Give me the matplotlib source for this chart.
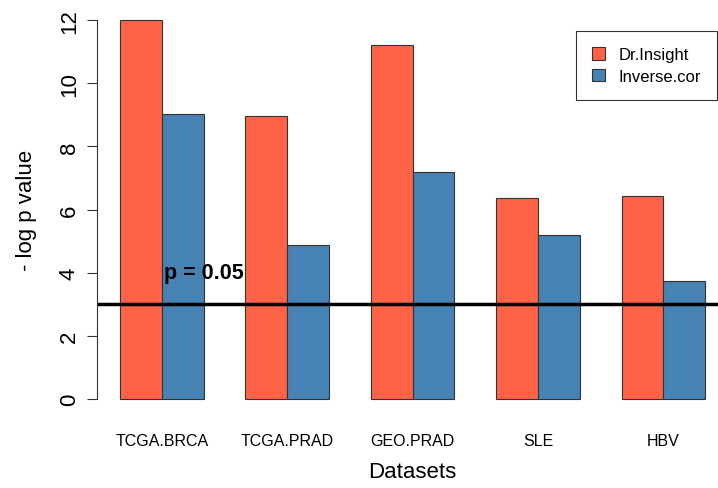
import numpy as np
import matplotlib
matplotlib.use('Agg')
import matplotlib.pyplot as plt

plt.rcParams['font.family'] = ['Liberation Sans', 'DejaVu Sans']

# data
datasets = ['TCGA.BRCA', 'TCGA.PRAD', 'GEO.PRAD', 'SLE', 'HBV']
dr_insight = [12.0, 8.95, 11.21, 6.36, 6.43]
inverse_cor = [9.03, 4.88, 7.19, 5.19, 3.74]
series = ['Dr.Insight', 'Inverse.cor']
colors = ['#FF6347', '#4682B4']
cutoff = 3
cutoff_label = 'p = 0.05'

W, H = 718, 489
fig = plt.figure(figsize=(W / 100, H / 100), dpi=100)
# plot region in pixels: x 96.6 -> 728, y 6 -> 415
left, right, top, bottom = 96.6, 728.5, 6, 415
ax = fig.add_axes([left / W, 1 - bottom / H, (right - left) / W, (bottom - top) / H])

# R style barplot(beside=TRUE): bar width 1, space c(0,1)
n = len(datasets)
starts = 1 + 3 * np.arange(n)
ax.bar(starts, dr_insight, width=1, align='edge', color=colors[0],
       edgecolor='#333333', linewidth=0.8, label=series[0])
ax.bar(starts + 1, inverse_cor, width=1, align='edge', color=colors[1],
       edgecolor='#333333', linewidth=0.8, label=series[1])

ax.set_xlim(0.44, 15.56)
ax.set_ylim(-0.48, 12.48)

for s in ['top', 'right', 'bottom']:
    ax.spines[s].set_visible(False)
ax.spines['left'].set_bounds(0, 12)
ax.spines['left'].set_color('#333333')

ax.set_yticks(range(0, 13, 2))
ax.tick_params(axis='y', length=7, width=0.8, color='#333333', labelsize=16, pad=5)
for t in ax.get_yticklabels():
    t.set_rotation(90)
    t.set_va('center')

ax.set_xticks(starts + 1)
ax.set_xticklabels(datasets, fontsize=11.5)
ax.tick_params(axis='x', length=0, pad=14)

ax.set_xlabel('Datasets', fontsize=16, labelpad=9)
ax.set_ylabel('- log p value', fontsize=16, labelpad=16)

ax.axhline(cutoff, color='black', linewidth=2.5)
ax.text(3, 4, cutoff_label, ha='center', va='center', fontsize=15.5, fontweight='bold')

leg = ax.legend(loc='upper right', bbox_to_anchor=((717 - left) / (right - left), 1 - (32 - top) / (bottom - top)),
                fontsize=12, frameon=True, fancybox=False, handlelength=0.8,
                handleheight=0.8, borderpad=0.95, labelspacing=0.4, handletextpad=0.8,
                borderaxespad=0)
leg.get_frame().set_edgecolor('black')
leg.get_frame().set_linewidth(0.8)

fig.savefig('out.png', dpi=100)
